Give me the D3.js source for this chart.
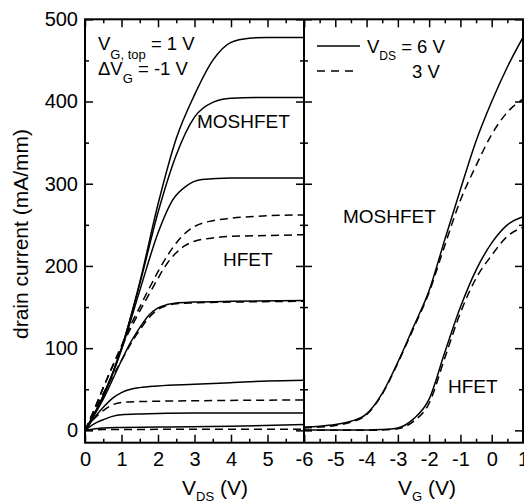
<!DOCTYPE html>
<html>
<head>
<meta charset="utf-8">
<script src="https://cdn.jsdelivr.net/npm/d3@7"></script>
<style>
  body { margin: 0; background: #fff; }
  svg { display: block; font-family: "Liberation Sans", Arial, sans-serif; }
  .tick line { stroke: #000; stroke-width: 1.5; }
  .domain { display: none; }
</style>
</head>
<body>
<svg width="524" height="502"></svg>
<script>
// tick labels
var currentTicks = [0, 100, 200, 300, 400, 500];
var vdsTicks = [0, 1, 2, 3, 4, 5];
var vgTicks = [-6, -5, -4, -3, -2, -1, 0, 1];

// output curves, MOSHFET (solid), Vg = 1 ... -5 V   [Vds, Id]
var mosVg1 = [[0,0],[0.5,42],[1,100],[1.5,180],[2,275],[2.5,355],[3,408],[3.5,450],[4,472],[4.5,477],[5,478],[6,478]];
var mosVg0 = [[0,0],[0.5,42],[1,100],[1.5,178],[2,265],[2.5,335],[3,381],[3.5,399],[4,404],[5,405],[6,405]];
var mosVgM1 = [[0,0],[0.5,41],[1,98],[1.5,170],[2,240],[2.4,280],[2.8,298],[3.2,305],[4,307],[6,307]];
var mosVgM2 = [[0,0],[0.5,38],[1,85],[1.25,107],[1.5,125],[1.75,140],[2,149],[2.25,153],[2.5,155],[3,156],[4,157],[6,158]];
var mosVgM3 = [[0,0],[0.25,15],[0.5,28],[0.75,39],[1,46],[1.25,50],[1.5,52],[2,54],[3,56],[4,58],[5,60],[6,61]];
var mosVgM4 = [[0,0],[0.25,8],[0.5,13],[0.75,17],[1,19],[1.5,20],[3,21],[6,21]];
var mosVgM5 = [[0,0],[0.5,3],[1,3.5],[2,4],[4,5],[6,7]];

// output curves, HFET (dashed), Vg = 1 ... -3 V
var hfetVg1 = [[0,0],[0.25,25],[0.5,52],[0.75,78],[1,103],[1.25,128],[1.5,150],[1.75,172],[2,193],[2.25,212],[2.5,228],[2.75,240],[3,248],[3.5,255],[4,258],[5,261],[6,262]];
var hfetVg0 = [[0,0],[0.25,25],[0.5,52],[0.75,77],[1,101],[1.25,124],[1.5,145],[1.75,165],[2,185],[2.25,203],[2.5,216],[2.75,225],[3,230],[3.5,234],[4,236],[5,237],[6,238]];
var hfetVgM1 = [[0,0],[0.25,22],[0.5,45],[0.75,65],[1,85],[1.25,105],[1.5,122],[1.75,137],[2,147],[2.25,152],[2.5,154],[3,155],[4,156],[6,157]];
var hfetVgM2 = [[0,0],[0.25,14],[0.5,24],[0.75,31],[1,34],[1.5,35],[3,36],[6,37]];
var hfetVgM3 = [[0,0],[0.5,1],[6,1.5]];

// transfer curves [Vg, Id]
var mosVds6 = [[-6,4],[-5.5,5],[-5,7],[-4.5,11],[-4,20],[-3.5,45],[-3,83],[-2.5,126],[-2,170],[-1.5,232],[-1,293],[-0.5,352],[0,400],[0.5,442],[1,478]];
var mosVds3 = [[-6,3],[-5.5,4],[-5,6],[-4.5,10],[-4,19],[-3.5,44],[-3,82],[-2.5,124],[-2,168],[-1.5,225],[-1,280],[-0.5,322],[0,360],[0.5,387],[1,403]];
var hfetVds6 = [[-6,0.5],[-5,0.5],[-4,0.5],[-3.5,1],[-3,3],[-2.5,14],[-2,38],[-1.5,95],[-1,150],[-0.5,195],[0,228],[0.5,250],[1,260]];
var hfetVds3 = [[-6,0],[-4,0],[-3.5,0.5],[-3,2],[-2.5,11],[-2,33],[-1.5,88],[-1,143],[-0.5,185],[0,213],[0.5,236],[1,247]];

var svg = d3.select("svg");
var top_ = 19.3, bottom = 442.7, left = 85, mid = 304, right = 523;

var y = d3.scaleLinear().domain([-15, 500]).range([bottom, top_]);
var xL = d3.scaleLinear().domain([0, 6]).range([left, mid]);
var xR = d3.scaleLinear().domain([-6, 1]).range([mid, right]);

function halves(a, b) {
  var out = [];
  for (var v = a; v <= b + 1e-9; v += 0.5) out.push(v);
  return out;
}

// ticks, all pointing inward
function ticks(axis, tx, ty, vals, size) {
  svg.append("g")
    .attr("transform", "translate(" + tx + "," + ty + ")")
    .call(axis.tickValues(vals).tickSize(-size).tickFormat(""));
}
var yMinor = [50, 150, 250, 350, 450];
[[left, d3.axisLeft], [mid, d3.axisRight], [mid, d3.axisLeft], [right, d3.axisRight]].forEach(function (p) {
  ticks(p[1](y), p[0], 0, currentTicks, 8);
  ticks(p[1](y), p[0], 0, yMinor, 4);
});
[[bottom, d3.axisBottom], [top_, d3.axisTop]].forEach(function (p) {
  ticks(p[1](xL), 0, p[0], d3.range(0, 7), 8);
  ticks(p[1](xL), 0, p[0], halves(0.5, 5.5).filter(function (v) { return v % 1; }), 4);
  ticks(p[1](xR), 0, p[0], d3.range(-6, 2), 8);
  ticks(p[1](xR), 0, p[0], halves(-5.5, 0.5).filter(function (v) { return v % 1; }), 4);
});

// tick labels (plain hyphen for negatives, like the original)
var fmt = function (d) { return String(d); };
svg.append("g").attr("transform", "translate(" + left + ",0)")
  .call(d3.axisLeft(y).tickValues(currentTicks).tickFormat(fmt).tickSize(0).tickPadding(7))
  .attr("font-size", 20).attr("font-family", null);
svg.append("g").attr("transform", "translate(0," + bottom + ")")
  .call(d3.axisBottom(xL).tickValues(vdsTicks).tickFormat(fmt).tickSize(0).tickPadding(9))
  .attr("font-size", 20).attr("font-family", null);
svg.append("g").attr("transform", "translate(0," + bottom + ")")
  .call(d3.axisBottom(xR).tickValues(vgTicks).tickFormat(fmt).tickSize(0).tickPadding(9))
  .attr("font-size", 20).attr("font-family", null);

// frame
svg.append("rect").attr("x", left).attr("y", top_).attr("width", right - left).attr("height", bottom - top_)
  .attr("fill", "none").attr("stroke", "#000").attr("stroke-width", 2);
svg.append("line").attr("x1", mid).attr("x2", mid).attr("y1", top_).attr("y2", bottom)
  .attr("stroke", "#000").attr("stroke-width", 2);

// curves
svg.append("clipPath").attr("id", "clipL").append("rect")
  .attr("x", left).attr("y", top_).attr("width", mid - left).attr("height", bottom - top_);
svg.append("clipPath").attr("id", "clipR").append("rect")
  .attr("x", mid).attr("y", top_).attr("width", right - mid).attr("height", bottom - top_);

var lineL = d3.line().x(function (d) { return xL(d[0]); }).y(function (d) { return y(d[1]); }).curve(d3.curveMonotoneX);
var lineR = d3.line().x(function (d) { return xR(d[0]); }).y(function (d) { return y(d[1]); }).curve(d3.curveMonotoneX);

function draw(data, gen, clip, dashed) {
  svg.append("path").datum(data)
    .attr("d", gen)
    .attr("clip-path", "url(#" + clip + ")")
    .attr("fill", "none")
    .attr("stroke", "#000")
    .attr("stroke-width", 1.5)
    .attr("stroke-dasharray", dashed ? "8,5" : null);
}
[mosVg1, mosVg0, mosVgM1, mosVgM2, mosVgM3, mosVgM4, mosVgM5].forEach(function (c) { draw(c, lineL, "clipL", false); });
[hfetVg1, hfetVg0, hfetVgM1, hfetVgM2, hfetVgM3].forEach(function (c) { draw(c, lineL, "clipL", true); });
draw(mosVds6, lineR, "clipR", false);
draw(hfetVds6, lineR, "clipR", false);
draw(mosVds3, lineR, "clipR", true);
draw(hfetVds3, lineR, "clipR", true);

// text with subscripts
function label(x, yy, parts, size, anchor) {
  var t = svg.append("text").attr("x", x).attr("y", yy).attr("font-size", size)
    .attr("text-anchor", anchor || "start");
  var shift = 0;
  parts.forEach(function (p) {
    var s = t.append("tspan").text(p[0]);
    if (p[1]) { s.attr("font-size", p[1]).attr("dy", p[2] - shift); shift = p[2]; }
    else if (shift) { s.attr("dy", -shift); shift = 0; }
  });
  return t;
}

label(98, 50, [["V"], ["G, top", 13, 9], [" = 1 V"]], 18.5);
label(98, 75, [["\u0394V"], ["G", 13, 8], [" = -1 V"]], 18.5);
label(197, 128, [["MOSHFET"]], 19);
label(223, 266, [["HFET"]], 19);
label(343, 223, [["MOSHFET"]], 19);
label(448, 393, [["HFET"]], 19);

// legend
svg.append("line").attr("x1", 317).attr("x2", 360).attr("y1", 46).attr("y2", 46)
  .attr("stroke", "#000").attr("stroke-width", 1.5);
svg.append("line").attr("x1", 317).attr("x2", 356).attr("y1", 71).attr("y2", 71)
  .attr("stroke", "#000").attr("stroke-width", 1.5).attr("stroke-dasharray", "8,6");
label(367, 53, [["V"], ["DS", 12, 7], [" = 6 V"]], 18.5);
label(412, 78, [["3 V"]], 18.5);

// axis titles
label(182, 495, [["V"], ["DS", 13, 6], [" (V)"]], 21);
label(398, 495, [["V"], ["G", 13, 6], [" (V)"]], 21);
svg.append("text").attr("transform", "translate(28,234) rotate(-90)")
  .attr("text-anchor", "middle").attr("font-size", 21).text("drain current (mA/mm)");
</script>
</body>
</html>
